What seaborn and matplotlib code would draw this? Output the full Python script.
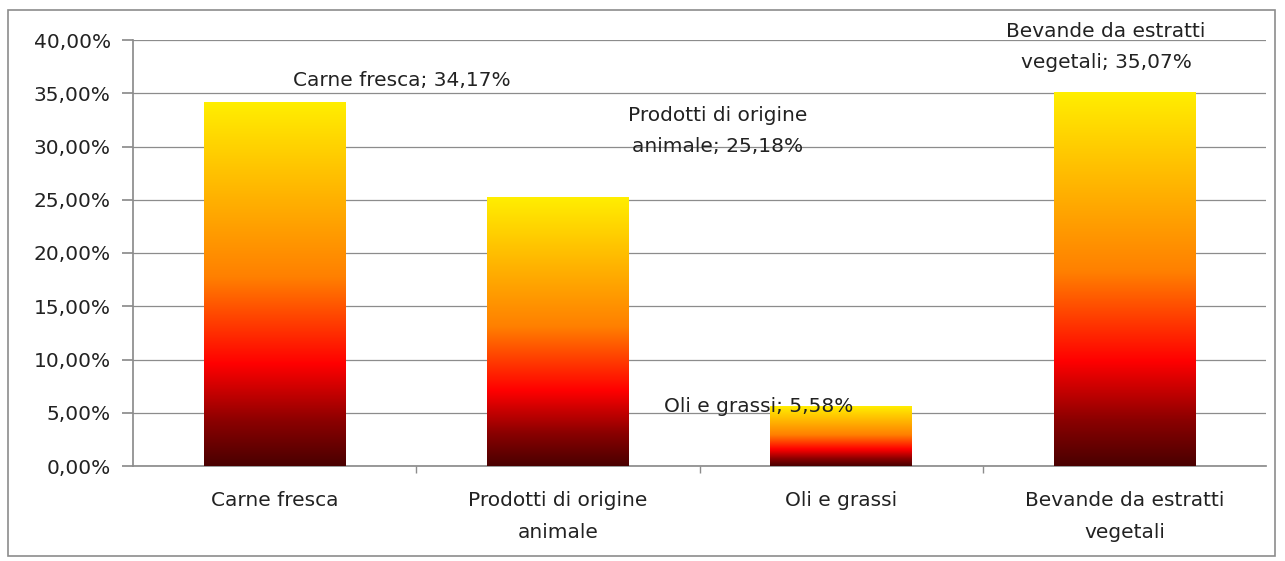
import numpy as np
import pandas as pd
import matplotlib
matplotlib.use("Agg")
import matplotlib.pyplot as plt
import seaborn as sns
from matplotlib.colors import LinearSegmentedColormap
from matplotlib.patches import Rectangle

categories = ["Carne fresca", "Prodotti di origine\nanimale", "Oli e grassi", "Bevande da estratti\nvegetali"]
values = [34.17, 25.18, 5.58, 35.07]
data_labels = ["Carne fresca; 34,17%", "Prodotti di origine\nanimale; 25,18%", "Oli e grassi; 5,58%", "Bevande da estratti\nvegetali; 35,07%"]
yticks = [0, 5, 10, 15, 20, 25, 30, 35, 40]
ytick_labels = ["0,00%", "5,00%", "10,00%", "15,00%", "20,00%", "25,00%", "30,00%", "35,00%", "40,00%"]

sns.set_theme(style="white")
plt.rcParams['font.family'] = ['DejaVu Sans']

FS = 14.5
fig = plt.figure(figsize=(12.85, 5.61), dpi=100)
ax = fig.add_axes([133/1285, 1-466/561, (1266-133)/1285, (466-40)/561])

df = pd.DataFrame({"cat": categories, "val": values})
sns.barplot(data=df, x="cat", y="val", ax=ax, width=0.5, color="white", edgecolor="none", zorder=3)

cmap = LinearSegmentedColormap.from_list("fire", [
    (0.0, "#4a0000"), (0.12, "#8a0000"), (0.28, "#ff0000"), (0.52, "#ff8000"), (0.80, "#ffc000"), (1.0, "#ffee00")])
grad = np.linspace(0, 1, 256).reshape(-1, 1)
for p in ax.patches:
    x0, y0 = p.get_x(), p.get_y()
    w, h = p.get_width(), p.get_height()
    ax.imshow(grad, cmap=cmap, origin="lower", aspect="auto",
              extent=[x0, x0 + w, y0, y0 + h], zorder=4)
    p.set_visible(False)

ax.set_xlim(-0.5, 3.5)
ax.set_ylim(0, 40)
ax.set_yticks(yticks)
ax.set_yticklabels(ytick_labels, fontsize=FS, color="#222222")
ax.set_xticks(range(4))
ax.set_xticklabels(categories, fontsize=FS, color="#222222", linespacing=1.85)
ax.set_xlabel("")
ax.set_ylabel("")
ax.yaxis.grid(True, color="#8c8c8c", linewidth=0.9, zorder=0)
ax.set_axisbelow(True)
for s in ["top", "right"]:
    ax.spines[s].set_visible(False)
ax.spines["left"].set_color("#8c8c8c")
ax.spines["bottom"].set_color("#8c8c8c")
ax.tick_params(axis="y", length=8, color="#8c8c8c", left=True, pad=8)
ax.tick_params(axis="x", length=0, pad=18)
ax.set_xticks([0.5, 1.5, 2.5], minor=True)
ax.tick_params(axis="x", which="minor", length=5, color="#8c8c8c", bottom=True)

label_pos = [(0.45, 35.3), (1.565, 29.1), (1.71, 4.7), (2.935, 37.0)]
for (lx, ly), t in zip(label_pos, data_labels):
    ax.text(lx, ly, t, ha="center", va="bottom", fontsize=FS, color="#222222",
            linespacing=1.8, zorder=6)

fig.patches.append(Rectangle((8/1285, 5/561), 1267/1285, 546/561, transform=fig.transFigure,
                             fill=False, edgecolor="#8c8c8c", linewidth=1.2))
fig.savefig("out.png", dpi=100, facecolor="white")
